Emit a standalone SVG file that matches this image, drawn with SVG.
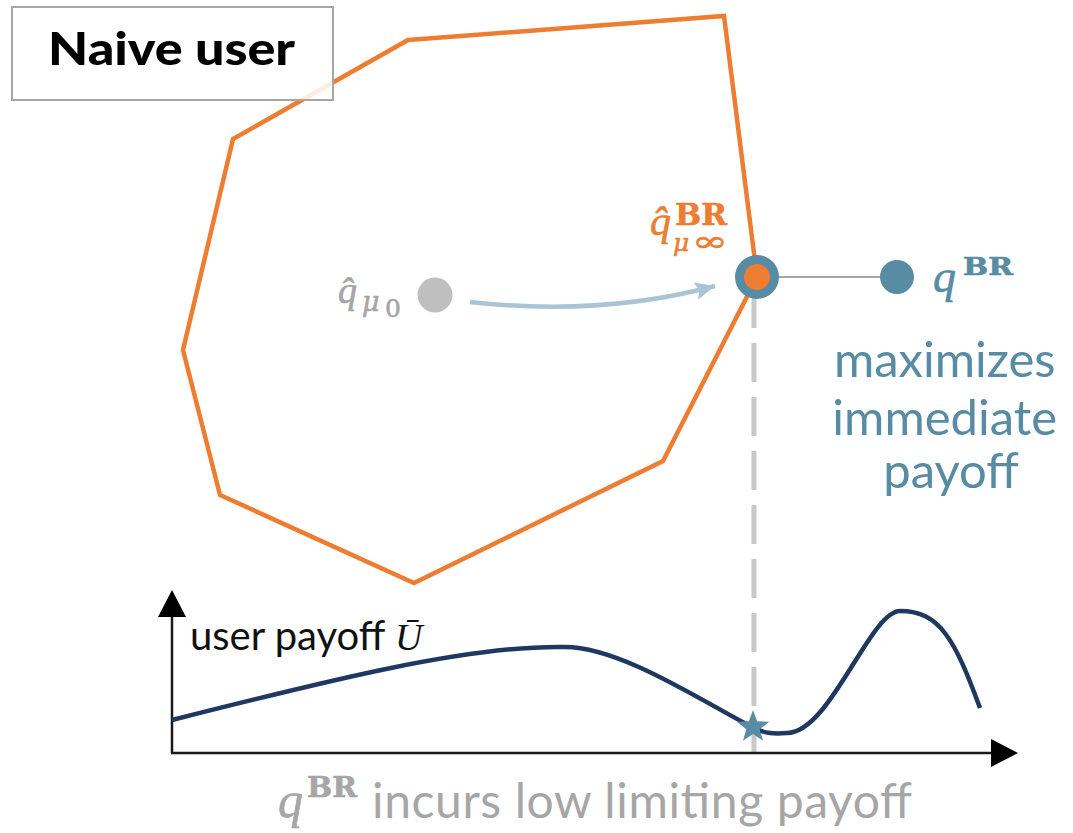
<svg xmlns="http://www.w3.org/2000/svg" width="1073" height="833" viewBox="0 0 1073 833">
  <defs>
    <style>
      .sans { font-family: Lato, "Open Sans", "DejaVu Sans", sans-serif; }
      .math { font-family: "Liberation Serif", "DejaVu Serif", serif; font-style: italic; }
      .greek { font-family: "DejaVu Serif", "Liberation Serif", serif; font-style: italic; }
      .bf { font-family: "DejaVu Serif", "Liberation Serif", serif; font-weight: bold; font-style: normal; }
      .up { font-family: "DejaVu Serif", "Liberation Serif", serif; font-style: normal; }
      .orange { fill: #ED7D31; stroke: #ED7D31; stroke-width: 0.6; }
      .blue { fill: #588BA4; }
      .blue-math { fill: #588BA4; stroke: #588BA4; stroke-width: 0.6; }
      .grey { fill: #A6A6A6; }
      .grey-math { fill: #A6A6A6; stroke: #A6A6A6; stroke-width: 0.6; }
      .axis { stroke: #1A1A1A; stroke-width: 2.5; fill: none; }
    </style>
    <marker id="arrow-light" markerUnits="userSpaceOnUse" markerWidth="22" markerHeight="20" refX="20" refY="9" orient="auto">
      <polygon points="0,0 20,9 0,18 4,9" fill="#A9C5D3"/>
    </marker>
  </defs>

  <rect width="1073" height="833" fill="#ffffff"/>

  <!-- feasible region -->
  <g id="region">
    <polygon points="408,40 724,16 757,277 663,461 414,583 220,495 183,350 233,139" fill="none" stroke="#ED7D31" stroke-width="4.5" stroke-linejoin="miter"/>
  </g>

  <!-- title box -->
  <g id="title">
    <rect x="12" y="7" width="321" height="93" fill="#ffffff" fill-opacity="0.85" stroke="#A6A6A6" stroke-width="2"/>
    <text class="sans" x="48" y="65" font-size="46" font-weight="900" fill="#000000" textLength="247" lengthAdjust="spacingAndGlyphs">Naive user</text>
  </g>

  <!-- connectors -->
  <g id="connectors">
    <line x1="754" y1="289" x2="754" y2="752" stroke="#C8C8C8" stroke-width="5" stroke-dasharray="39 15"/>
    <line x1="757" y1="277" x2="897" y2="277" stroke="#A6A6A6" stroke-width="2"/>
    <path d="M470,302 C560,312 640,306 715,286" fill="none" stroke="#A9C5D3" stroke-width="4.5" marker-end="url(#arrow-light)"/>
  </g>

  <!-- initial estimate -->
  <g id="node-q-mu0">
    <circle cx="435" cy="295" r="17.5" fill="#BFBFBF"/>
    <text class="math grey-math"><tspan x="338" y="303" font-size="38">q&#x302;</tspan><tspan class="greek" x="362" y="311" font-size="27">μ</tspan><tspan class="up" x="385" y="317" font-size="25">0</tspan></text>
  </g>

  <!-- limiting estimate -->
  <g id="node-q-mu-inf">
    <circle cx="757" cy="277" r="22" fill="#588BA4"/>
    <circle cx="757" cy="277" r="13" fill="#ED7D31"/>
    <text class="math orange"><tspan x="650" y="235" font-size="42">q&#x302;</tspan><tspan class="bf" x="675" y="225" font-size="29" textLength="52" lengthAdjust="spacingAndGlyphs">BR</tspan><tspan class="greek" x="673" y="251" font-size="25">μ</tspan><tspan class="up" x="692" y="251" font-size="28" textLength="36" lengthAdjust="spacingAndGlyphs">∞</tspan></text>
  </g>

  <!-- best response -->
  <g id="node-q-br">
    <circle cx="897" cy="277" r="17" fill="#588BA4"/>
    <text class="math blue-math"><tspan x="933" y="292" font-size="46">q</tspan><tspan class="bf" x="963" y="275" font-size="25" textLength="50" lengthAdjust="spacingAndGlyphs">BR</tspan></text>
    <text class="sans blue" font-size="49" text-anchor="middle">
      <tspan x="951" y="377">maximizes</tspan>
      <tspan x="951" y="435">immediate</tspan>
      <tspan x="951" y="488">payoff</tspan>
    </text>
  </g>

  <!-- payoff plot -->
  <g id="plot">
    <line class="axis" x1="172" y1="753" x2="172" y2="612"/>
    <line class="axis" x1="171" y1="753" x2="995" y2="753"/>
    <polygon points="172,590 186,617 158,617" fill="#000000"/>
    <polygon points="1018,753 991,767 991,739" fill="#000000"/>
    <path d="M172,720 C330,680 470,645 565,647 C620,647 700,700 752,727 C765,734 775,734 787,733 C830,733 870,611 900,611 C940,611 955,640 980,708" fill="none" stroke="#1F3860" stroke-width="4.5"/>
    <polygon points="753,710 757.1,721.3 769.2,721.7 759.7,729.2 763,740.8 753,734 743,740.8 746.3,729.2 736.8,721.7 748.9,721.3" fill="#588BA4"/>
    <text class="sans" font-size="40" fill="#111111"><tspan x="190" y="650">user payoff</tspan><tspan class="math" x="395" y="650" font-size="38">Ū</tspan></text>
  </g>

  <!-- caption -->
  <g id="caption">
    <text class="math grey-math"><tspan x="278" y="817" font-size="50">q</tspan><tspan class="bf" x="307" y="797" font-size="27" textLength="50" lengthAdjust="spacingAndGlyphs">BR</tspan></text>
    <text class="sans grey" x="372" y="818" font-size="48" textLength="540" lengthAdjust="spacing">incurs low limiting payoff</text>
  </g>
</svg>
